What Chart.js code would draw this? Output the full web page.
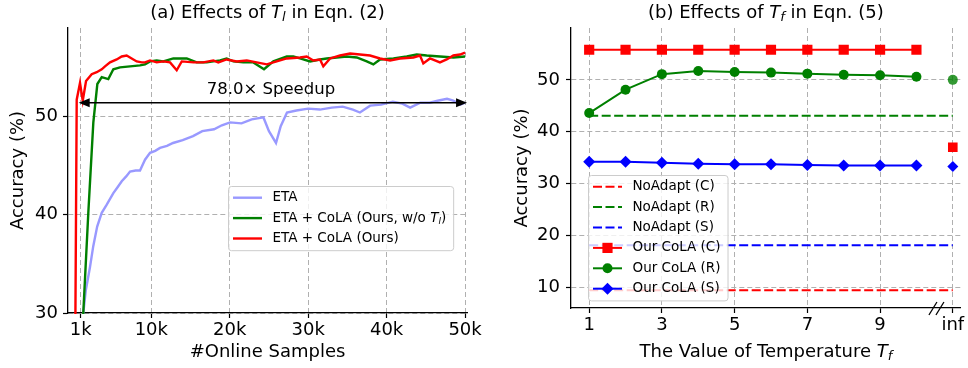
<!DOCTYPE html>
<html>
<head>
<meta charset="utf-8">
<script src="https://cdn.jsdelivr.net/npm/chart.js@4.4.0/dist/chart.umd.min.js"></script>
<style>
  html, body { margin: 0; padding: 0; background: #fff; }
  #wrap { position: relative; width: 968px; height: 368px; }
  .box { position: absolute; top: 0; width: 484px; height: 368px; }
</style>
</head>
<body>
<div id="wrap">
  <div class="box" style="left:0"><canvas id="left" width="484" height="368"></canvas></div>
  <div class="box" style="left:484px"><canvas id="right" width="484" height="368"></canvas></div>
</div>
<script>
// ---------- (a) accuracy vs #online samples (x in thousands) ----------
const etaX = [1.15, 1.33, 1.65, 1.9, 2.19, 2.6, 3.1, 3.68, 4.3, 5.16, 5.7, 6.23, 6.8, 7.29, 8.0, 8.56, 9.2, 9.84, 10.5, 11.11, 12.0, 12.77, 14.0, 15.32, 16.5, 18.0, 19.0, 20.04, 21.5, 22.8, 24.3, 25.0, 25.9, 26.5, 27.3, 28.5, 30.0, 31.5, 33.0, 34.4, 35.7, 36.6, 37.9, 39.3, 40.8, 42.0, 43.0, 44.3, 45.5, 46.5, 47.7, 48.5, 49.4, 50.0];
const etaY = [24, 30, 32.3, 33.4, 34.7, 36.8, 38.8, 40.2, 41.0, 42.2, 42.8, 43.4, 43.9, 44.4, 44.5, 44.5, 45.6, 46.3, 46.5, 46.8, 47.0, 47.3, 47.6, 48.0, 48.5, 48.7, 49.1, 49.4, 49.3, 49.7, 49.9, 48.5, 47.3, 49.0, 50.4, 50.6, 50.8, 50.7, 50.9, 51.0, 50.7, 50.4, 51.1, 51.2, 51.5, 51.3, 50.9, 51.4, 51.4, 51.6, 51.8, 51.6, 51.2, 51.4];

const noTlX = [1.2, 1.33, 1.97, 2.61, 3.12, 3.68, 4.52, 5.16, 6.01, 7.29, 8.56, 9.2, 9.84, 10.69, 11.53, 12.81, 14.52, 15.79, 17.07, 18.76, 19.6, 20.46, 21.73, 23.01, 24.37, 25.56, 27.27, 28.11, 28.96, 30.24, 31.51, 32.36, 33.64, 34.91, 36.19, 37.47, 38.31, 39.16, 40.87, 42.57, 43.84, 45.11, 46.8, 48.51, 50.0];
const noTlY = [24, 30, 40.2, 49.4, 53.3, 54.0, 53.8, 54.8, 55.0, 55.1, 55.2, 55.3, 55.6, 55.7, 55.6, 55.9, 55.9, 55.5, 55.5, 55.7, 55.9, 55.6, 55.5, 55.5, 54.8, 55.6, 56.1, 56.1, 55.9, 55.6, 55.8, 55.9, 56.0, 56.1, 56.0, 55.6, 55.3, 55.8, 55.9, 56.1, 56.3, 56.2, 56.1, 56.0, 56.1];

const colaX = [0.25, 0.49, 0.91, 1.26, 1.68, 2.40, 3.04, 3.68, 4.10, 4.74, 5.59, 6.23, 6.86, 7.50, 8.14, 8.78, 9.20, 9.84, 10.69, 11.53, 12.39, 13.24, 13.88, 15.40, 16.63, 17.91, 18.54, 19.60, 20.89, 22.17, 23.44, 24.72, 25.99, 27.27, 28.96, 29.81, 30.66, 31.51, 31.93, 32.79, 34.06, 35.34, 36.61, 37.89, 39.16, 40.44, 41.71, 43.41, 44.26, 44.68, 45.53, 46.80, 47.66, 48.51, 49.36, 50.00];
const colaY = [20, 51.7, 53.4, 51.6, 53.6, 54.3, 54.5, 54.8, 55.1, 55.5, 55.8, 56.1, 56.2, 55.9, 55.6, 55.5, 55.5, 55.7, 55.5, 55.6, 55.5, 54.7, 55.6, 55.5, 55.5, 55.7, 55.5, 55.8, 55.6, 55.7, 55.5, 55.3, 55.6, 55.9, 56.0, 56.1, 55.7, 55.8, 55.1, 55.9, 56.2, 56.4, 56.3, 56.2, 55.9, 55.7, 55.9, 56.0, 56.2, 55.4, 55.9, 55.5, 55.8, 56.2, 56.3, 56.5];

const sampleTicks = [1, 10, 20, 30, 40, 50];
const accTicksA = [30, 40, 50];
const arrowSpan = [1, 50];
const arrowY = 51.4;
const speedupText = '78.0× Speedup';

// ---------- (b) accuracy vs temperature T_f ----------
const temps = [1, 2, 3, 4, 5, 6, 7, 8, 9, 10];
const infPos = 11;
const colaC = [55.8, 55.8, 55.8, 55.8, 55.8, 55.8, 55.8, 55.8, 55.8, 55.8];
const colaR = [43.6, 48.1, 51.1, 51.7, 51.5, 51.4, 51.2, 51.0, 50.9, 50.6];
const colaS = [34.2, 34.2, 34.0, 33.8, 33.7, 33.7, 33.6, 33.5, 33.5, 33.5];
const colaInf = [37.0, 50.0, 33.3];      // C, R, S at T_f = inf
const noAdapt = [9.4, 43.1, 18.1];       // C, R, S
const tempTicks = [1, 3, 5, 7, 9, 11];
const accTicksB = [10, 20, 30, 40, 50];

const FONT = '"DejaVu Sans", sans-serif';
const RED = '#ff0000', GREEN = '#008000', BLUE = '#0000ff';

// text with $T_l$ style italic + subscript
function parseRich(str) {
  const parts = [];
  str.split('$').forEach((seg, i) => {
    if (!seg) return;
    if (i % 2 === 0) { parts.push({ t: seg, s: 'n' }); return; }
    const [base, sub] = seg.split('_');
    parts.push({ t: base, s: 'i' });
    if (sub) parts.push({ t: sub, s: 'sub' });
  });
  return parts;
}
function partFont(p, size) {
  if (p.s === 'n') return size + 'px ' + FONT;
  if (p.s === 'i') return 'italic ' + size + 'px ' + FONT;
  return 'italic ' + Math.round(size * 0.7) + 'px ' + FONT;
}
function richWidth(ctx, str, size) {
  let w = 0;
  parseRich(str).forEach(p => { ctx.font = partFont(p, size); w += ctx.measureText(p.t).width; });
  return w;
}
function drawRich(ctx, str, x, y, size, align) {
  let cx = align === 'left' ? x : x - richWidth(ctx, str, size) / 2;
  ctx.textAlign = 'left';
  ctx.textBaseline = 'middle';
  parseRich(str).forEach(p => {
    ctx.font = partFont(p, size);
    ctx.fillText(p.t, cx, p.s === 'sub' ? y + size * 0.28 : y);
    cx += ctx.measureText(p.t).width;
  });
}
function drawMarker(ctx, style, x, y, r, color) {
  ctx.fillStyle = color;
  ctx.beginPath();
  if (style === 'rect') {
    const s = r * Math.SQRT1_2;
    ctx.rect(x - s, y - s, 2 * s, 2 * s);
  } else if (style === 'rectRot') {
    ctx.moveTo(x - r, y); ctx.lineTo(x, y - r); ctx.lineTo(x + r, y); ctx.lineTo(x, y + r); ctx.closePath();
  } else {
    ctx.arc(x, y, r, 0, Math.PI * 2);
  }
  ctx.fill();
}
function drawLegend(chart, left, top) {
  const ctx = chart.ctx;
  const items = chart.data.datasets.filter(d => d.label);
  const size = 13.5, rowH = 20.4, lineW = 29, gap = 10.5, padL = 5, padR = 7, padV = 11.7;
  let tw = 0;
  items.forEach(d => { tw = Math.max(tw, richWidth(ctx, d.label, size)); });
  const w = padL + lineW + gap + tw + padR;
  const h = 2 * padV + rowH * (items.length - 1);
  ctx.save();
  ctx.beginPath();
  ctx.roundRect(left + 0.5, top + 0.5, w, h, 3);
  ctx.fillStyle = 'rgba(255,255,255,0.8)';
  ctx.fill();
  ctx.strokeStyle = '#cccccc';
  ctx.lineWidth = 1;
  ctx.stroke();
  items.forEach((d, i) => {
    const y = top + padV + i * rowH;
    ctx.beginPath();
    ctx.setLineDash(d.borderDash || []);
    ctx.strokeStyle = d.borderColor;
    ctx.lineWidth = d.borderWidth;
    ctx.moveTo(left + padL, y);
    ctx.lineTo(left + padL + lineW, y);
    ctx.stroke();
    ctx.setLineDash([]);
    if (d.pointRadius) drawMarker(ctx, d.pointStyle, left + padL + lineW / 2, y, d.pointRadius, d.borderColor);
    ctx.fillStyle = '#000';
    drawRich(ctx, d.label, left + padL + lineW + gap, y, size, 'left');
  });
  ctx.restore();
}
function drawTitles(chart, title, xTitle, yTitle, yTitleX) {
  const ctx = chart.ctx, a = chart.chartArea;
  const cx = (a.left + a.right) / 2;
  ctx.save();
  ctx.fillStyle = '#000';
  drawRich(ctx, title, cx, 13, 18);
  drawRich(ctx, xTitle, cx, 352, 18);
  ctx.translate(yTitleX, (a.top + a.bottom) / 2);
  ctx.rotate(-Math.PI / 2);
  drawRich(ctx, yTitle, 0, 0, 18);
  ctx.restore();
}
const pts = (xs, ys) => xs.map((x, i) => ({ x: x, y: ys[i] }));

function axis(min, max, tickVals, fmt, fitKey, fitVal, pad) {
  return {
    type: 'linear', min: min, max: max,
    afterBuildTicks: s => { s.ticks = tickVals.map(v => ({ value: v })); },
    afterFit: s => { s[fitKey] = fitVal; },
    ticks: { callback: fmt, color: '#000', font: { family: FONT, size: 18 }, padding: pad, autoSkip: false, maxRotation: 0 },
    grid: { color: '#b0b0b0', lineWidth: 1, tickColor: '#000', tickLength: 5, tickWidth: 1.2, tickBorderDash: [] },
    border: { color: '#000', width: 1.3, dash: [5, 3] }
  };
}

// ---------- chart (a) ----------
const leftDeco = {
  id: 'leftDeco',
  afterDatasetsDraw(chart) {
    const ctx = chart.ctx, sx = chart.scales.x, sy = chart.scales.y;
    const xs = sx.getPixelForValue(arrowSpan[0]), xe = sx.getPixelForValue(arrowSpan[1]);
    const y = sy.getPixelForValue(arrowY);
    ctx.save();
    ctx.strokeStyle = '#000'; ctx.fillStyle = '#000'; ctx.lineWidth = 1.5;
    ctx.beginPath(); ctx.moveTo(xs + 6, y); ctx.lineTo(xe - 6, y); ctx.stroke();
    ctx.beginPath(); ctx.moveTo(xs - 2, y); ctx.lineTo(xs + 9, y - 4.5); ctx.lineTo(xs + 9, y + 4.5); ctx.closePath(); ctx.fill();
    ctx.beginPath(); ctx.moveTo(xe + 2, y); ctx.lineTo(xe - 9, y - 4.5); ctx.lineTo(xe - 9, y + 4.5); ctx.closePath(); ctx.fill();
    ctx.font = '16.5px ' + FONT; ctx.textAlign = 'center'; ctx.textBaseline = 'middle';
    ctx.fillText(speedupText, (xs + xe) / 2 - 2, y - 13);
    ctx.restore();
  },
  afterDraw(chart) {
    drawTitles(chart, '(a) Effects of $T_l$ in Eqn. (2)', '#Online Samples', 'Accuracy (%)', 18);
    drawLegend(chart, 228, 186);
  }
};

new Chart(document.getElementById('left'), {
  type: 'line',
  data: {
    datasets: [
      { label: 'ETA', data: pts(etaX, etaY), borderColor: '#9999ff', borderWidth: 2.4, order: 3 },
      { label: 'ETA + CoLA (Ours, w/o $T_l$)', data: pts(noTlX, noTlY), borderColor: GREEN, borderWidth: 2.4, order: 2 },
      { label: 'ETA + CoLA (Ours)', data: pts(colaX, colaY), borderColor: RED, borderWidth: 2.4, order: 1 }
    ]
  },
  options: {
    responsive: false,
    animation: false,
    layout: { padding: { left: 0, right: 17, top: 28, bottom: 0 } },
    elements: { point: { radius: 0 }, line: { tension: 0, fill: false } },
    datasets: { line: { clip: 1 } },
    plugins: { legend: { display: false }, tooltip: { enabled: false } },
    scales: {
      x: axis(-0.62, 50.25, sampleTicks, v => v + 'k', 'height', 55, 2),
      y: axis(30, 59, accTicksA, v => String(v), 'width', 68, 5)
    }
  },
  plugins: [leftDeco]
});

// ---------- chart (b) ----------
const rightDeco = {
  id: 'rightDeco',
  afterDraw(chart) {
    const ctx = chart.ctx, sx = chart.scales.x, a = chart.chartArea;
    const bx = sx.getPixelForValue(10.55), by = a.bottom;
    ctx.save();
    ctx.strokeStyle = '#000'; ctx.lineWidth = 1.3;
    [-3.5, 3.5].forEach(dx => {
      ctx.beginPath(); ctx.moveTo(bx + dx - 4, by + 7); ctx.lineTo(bx + dx + 4, by - 6); ctx.stroke();
    });
    ctx.restore();
    drawTitles(chart, '(b) Effects of $T_f$ in Eqn. (5)', 'The Value of Temperature $T_f$', 'Accuracy (%)', 38);
    drawLegend(chart, 104, 175);
  }
};

const flat = v => [{ x: temps[0], y: v }, { x: infPos, y: v }];
const dashed = (label, v, c) => ({ label: label, data: flat(v), borderColor: c, borderWidth: 2, borderDash: [9, 3.5], pointRadius: 0, order: 5 });
const cola = (label, ys, c, style, r) => ({
  label: label, data: pts(temps, ys), borderColor: c, backgroundColor: c, borderWidth: 2,
  pointStyle: style, pointRadius: r, pointBorderWidth: 0, pointBackgroundColor: c, order: 2
});
const infMark = (v, c, style, r) => ({
  data: [{ x: infPos, y: v }], showLine: false, borderColor: c, backgroundColor: c,
  pointStyle: style, pointRadius: r, pointBorderWidth: 0, pointBackgroundColor: c, order: 1
});

new Chart(document.getElementById('right'), {
  type: 'line',
  data: {
    datasets: [
      dashed('NoAdapt (C)', noAdapt[0], RED),
      dashed('NoAdapt (R)', noAdapt[1], GREEN),
      dashed('NoAdapt (S)', noAdapt[2], BLUE),
      cola('Our CoLA (C)', colaC, RED, 'rect', 7.2),
      cola('Our CoLA (R)', colaR, GREEN, 'circle', 5),
      cola('Our CoLA (S)', colaS, BLUE, 'rectRot', 6),
      infMark(colaInf[0], RED, 'rect', 6.8),
      infMark(colaInf[1], 'rgba(0,128,0,0.8)', 'circle', 5),
      infMark(colaInf[2], BLUE, 'rectRot', 5.5)
    ]
  },
  options: {
    responsive: false,
    animation: false,
    layout: { padding: { left: 0, right: 0, top: 28, bottom: 0 } },
    elements: { line: { tension: 0, fill: false } },
    datasets: { line: { clip: 8 } },
    plugins: { legend: { display: false }, tooltip: { enabled: false } },
    scales: {
      x: axis(0.5, 11.22, tempTicks, v => (v === infPos ? 'inf' : String(v)), 'height', 60, 2),
      y: axis(6, 60, accTicksB, v => String(v), 'width', 87, 6)
    }
  },
  plugins: [rightDeco]
});
</script>
</body>
</html>
